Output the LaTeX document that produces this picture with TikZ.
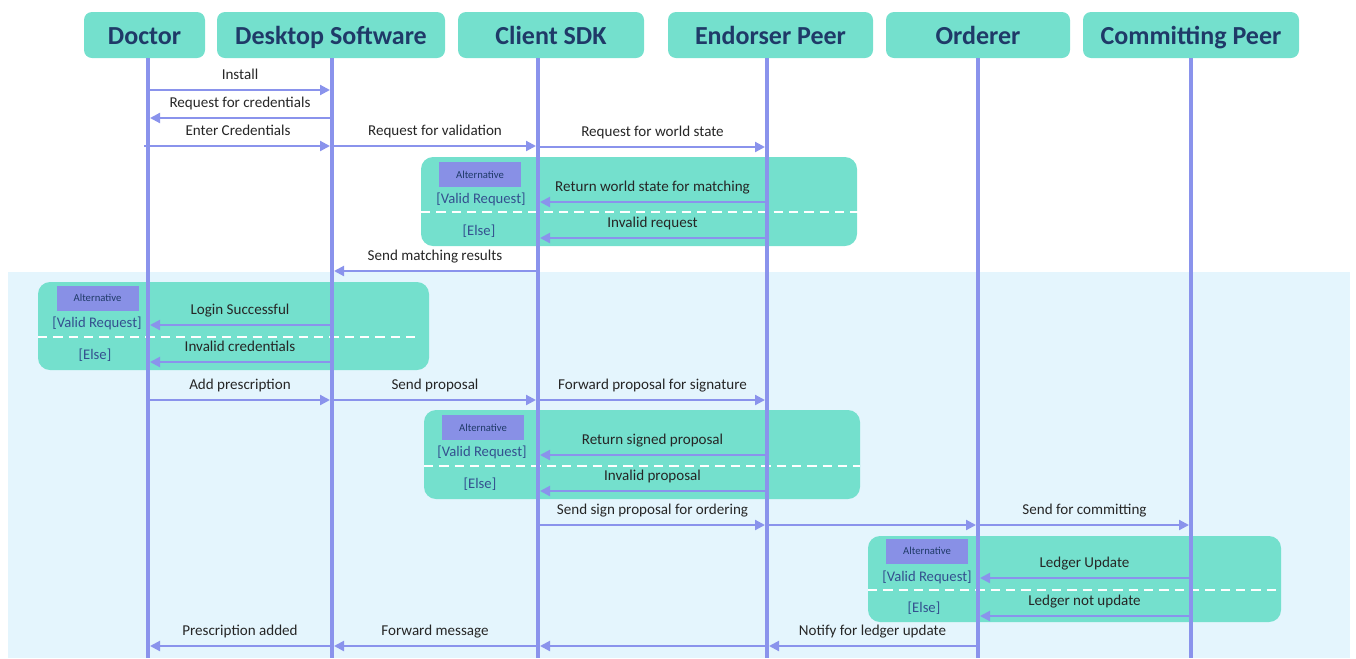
\documentclass[tikz,border=0pt]{standalone}
\usepackage{fontspec}
\setmainfont{Carlito}
\usetikzlibrary{positioning,arrows.meta}

\definecolor{headteal}{HTML}{74E0CD}
\definecolor{headtext}{HTML}{1F3A68}
\definecolor{lifeblue}{HTML}{8A93EC}
\definecolor{tagblue}{HTML}{8890E6}
\definecolor{guardblue}{HTML}{34508F}
\definecolor{paleblue}{HTML}{E4F5FD}

\tikzset{
	head/.style={fill=headteal, rounded corners=6pt, minimum height=34.5pt, inner sep=0pt,
		text height=16pt, text depth=2pt,
		text=headtext, font=\bfseries\fontsize{19.5}{22}\selectfont},
	lifeline/.style={draw=lifeblue, line width=2.3pt},
	msg/.style={draw=lifeblue, line width=1.6pt, -{Triangle[length=7.5pt,width=7.5pt]}, shorten >=1.5pt},
	lbl/.style={above=4.5pt, inner sep=0pt, text height=8pt, text depth=2.5pt,
		text=black!85, font=\fontsize{11.3}{13}\selectfont},
	altbox/.style={fill=headteal, rounded corners=9pt},
	tag/.style={fill=tagblue, minimum width=61.5pt, minimum height=18.75pt, inner sep=0pt,
		text=headtext, font=\fontsize{8}{9}\selectfont},
	guard/.style={inner sep=0pt, text=guardblue, font=\fontsize{11}{12}\selectfont},
	split/.style={draw=white, line width=1.6pt, dash pattern=on 7pt off 4.5pt}
}

\begin{document}
\begin{tikzpicture}[x=0.75pt, y=-0.75pt]
	\useasboundingbox (0,0) rectangle (1356,658);
	\fill[paleblue] (8,272) rectangle (1350,658);

	% participants
	\node[head, minimum width=90.75pt] (doc) at (144.5,35) {Doctor};
	\node[head, minimum width=171pt] (dsk) at (331,35) {Desktop Software};
	\node[head, minimum width=139.5pt] (sdk) at (551,35) {Client SDK};
	\node[head, minimum width=153.75pt] (end) at (770.5,35) {Endorser Peer};
	\node[head, minimum width=138pt] (ord) at (978,35) {Orderer};
	\node[head, minimum width=162pt] (com) at (1191,35) {Committing Peer};

	\coordinate (Ldoc) at (148,58);
	\coordinate (Ldsk) at (332,58);
	\coordinate (Lsdk) at (538,58);
	\coordinate (Lend) at (767,58);
	\coordinate (Lord) at (978,58);
	\coordinate (Lcom) at (1191,58);

	% alternative fragments
	\fill[altbox] (421,157) rectangle (857,246);
	\node[tag] (alt1) at (480,174.5) {Alternative};
	\node[guard] (valid1) at (481,199) {[Valid Request]};
	\node[guard] (else1) at (479,231) {[Else]};
	\draw[split] (421,212) -- (875,212);

	\fill[altbox] (38,282) rectangle (429,370);
	\node[tag] (alt2) at (97.5,298) {Alternative};
	\node[guard] (valid2) at (97,323) {[Valid Request]};
	\node[guard] (else2) at (95,355) {[Else]};
	\draw[split] (38,337) -- (420,337);

	\fill[altbox] (424,410) rectangle (860,499);
	\node[tag] (alt3) at (483,427.5) {Alternative};
	\node[guard] (valid3) at (482,452) {[Valid Request]};
	\node[guard] (else3) at (480,484) {[Else]};
	\draw[split] (424,466) -- (860,466);

	\fill[altbox] (868,536) rectangle (1281,622);
	\node[tag] (alt4) at (927,551) {Alternative};
	\node[guard] (valid4) at (927,577) {[Valid Request]};
	\node[guard] (else4) at (924,608) {[Else]};
	\draw[split] (868,590) -- (1281,590);

	% lifelines
	\foreach \p in {Ldoc,Ldsk,Lsdk,Lend,Lord,Lcom}
		\draw[lifeline] (\p) -- (\p|-0,658);

	% messages
	\draw[msg] (Ldoc|-0,90) -- node[lbl]{Install} (Ldsk|-0,90);
	\draw[msg] (Ldsk|-0,118) -- node[lbl]{Request for credentials} (Ldoc|-0,118);
	\draw[msg] (144,146) -- node[lbl]{Enter Credentials} (Ldsk|-0,146);
	\draw[msg] (Ldsk|-0,146) -- node[lbl]{Request for validation} (Lsdk|-0,146);
	\draw[msg] (Lsdk|-0,147) -- node[lbl]{Request for world state} (Lend|-0,147);
	\draw[msg] (Lend|-0,202) -- node[lbl]{Return world state for matching} (Lsdk|-0,202);
	\draw[msg] (Lend|-0,238) -- node[lbl]{Invalid request} (Lsdk|-0,238);
	\draw[msg] (Lsdk|-0,271) -- node[lbl]{Send matching results} (Ldsk|-0,271);
	\draw[msg] (Ldsk|-0,325) -- node[lbl]{Login Successful} (Ldoc|-0,325);
	\draw[msg] (Ldsk|-0,362) -- node[lbl]{Invalid credentials} (Ldoc|-0,362);
	\draw[msg] (Ldoc|-0,400) -- node[lbl]{Add prescription} (Ldsk|-0,400);
	\draw[msg] (Ldsk|-0,400) -- node[lbl]{Send proposal} (Lsdk|-0,400);
	\draw[msg] (Lsdk|-0,400) -- node[lbl]{Forward proposal for signature} (Lend|-0,400);
	\draw[msg] (Lend|-0,455) -- node[lbl]{Return signed proposal} (Lsdk|-0,455);
	\draw[msg] (Lend|-0,491) -- node[lbl]{Invalid proposal} (Lsdk|-0,491);
	\draw[msg] (Lsdk|-0,525) -- node[lbl]{Send sign proposal for ordering} (Lend|-0,525);
	\draw[msg] (Lend|-0,525) -- (Lord|-0,525);
	\draw[msg] (Lord|-0,525) -- node[lbl]{Send for committing} (Lcom|-0,525);
	\draw[msg] (Lcom|-0,578) -- node[lbl]{Ledger Update} (Lord|-0,578);
	\draw[msg] (Lcom|-0,616) -- node[lbl]{Ledger not update} (Lord|-0,616);
	\draw[msg] (Lord|-0,646) -- node[lbl]{Notify for ledger update} (Lend|-0,646);
	\draw[msg] (Lend|-0,646) -- (Lsdk|-0,646);
	\draw[msg] (Lsdk|-0,646) -- node[lbl]{Forward message} (Ldsk|-0,646);
	\draw[msg] (Ldsk|-0,646) -- node[lbl]{Prescription added} (Ldoc|-0,646);
\end{tikzpicture}
\end{document}
